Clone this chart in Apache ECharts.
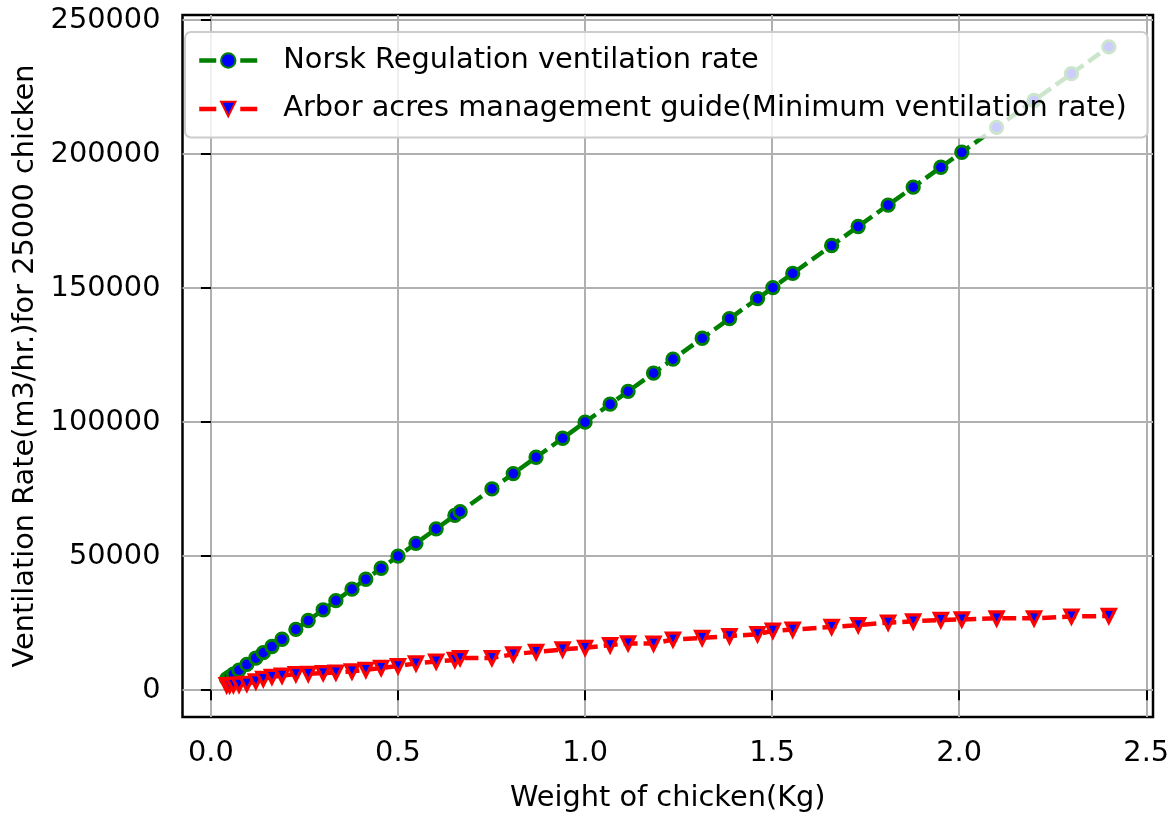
<!DOCTYPE html>
<html>
<head>
<meta charset="utf-8">
<script src="https://cdn.jsdelivr.net/npm/echarts@6/dist/echarts.min.js"></script>
<style>
html,body{margin:0;padding:0;background:#fff;}
#chart{width:1173px;height:818px;}
</style>
</head>
<body>
<div id="chart"></div>
<script>
// Weight of chicken (kg)
const weights = [0.042, 0.050, 0.060, 0.075, 0.096, 0.120, 0.140, 0.163, 0.190, 0.227,
  0.260, 0.300, 0.334, 0.377, 0.414, 0.455, 0.500, 0.548, 0.602, 0.652,
  0.666, 0.751, 0.808, 0.869, 0.940, 1.000, 1.067, 1.115, 1.183, 1.235,
  1.313, 1.386, 1.461, 1.502, 1.555, 1.659, 1.730, 1.810, 1.877, 1.951,
  2.007, 2.100, 2.200, 2.300, 2.400];
// Norsk Regulation ventilation rate (m3/hr for 25000 chicken)
const norskRate = [4200, 5000, 6000, 7500, 9600, 12000, 14000, 16300, 19000, 22700,
  26000, 30000, 33400, 37700, 41400, 45500, 50000, 54800, 60200, 65200,
  66600, 75100, 80800, 86900, 94000, 100000, 106700, 111500, 118300, 123500,
  131300, 138600, 146100, 150200, 155500, 165900, 173000, 181000, 187700, 195100,
  200700, 210000, 220000, 230000, 240000];
// Arbor acres management guide (Minimum ventilation rate)
const arborRate = [1900, 1900, 2000, 2100, 2400, 3300, 4200, 5000, 5400, 6000,
  6100, 6400, 6600, 7000, 7600, 8300, 9000, 10000, 10700, 11300,
  12000, 12000, 13400, 14300, 15200, 15800, 16800, 17500, 17400, 18900,
  19500, 20200, 20900, 22200, 22600, 23600, 24300, 25200, 25700, 26200,
  26400, 26800, 26800, 27500, 27700];
const seriesNames = ['Norsk Regulation ventilation rate',
  'Arbor acres management guide(Minimum ventilation rate)'];
const xTicks = [0, 0.5, 1.0, 1.5, 2.0, 2.5];
const yTicks = [0, 50000, 100000, 150000, 200000, 250000];
const xTitle = 'Weight of chicken(Kg)';
const yTitle = 'Ventilation Rate(m3/hr.)for 25000 chicken';

const FONT = 'DejaVu Sans';
const FS = 28.8;
const chart = echarts.init(document.getElementById('chart'), null, {renderer: 'canvas'});
const axisCommon = {
  axisLine: {show: false},
  axisTick: {show: true, inside: false, length: 10, lineStyle: {color: '#000', width: 2}},
  splitLine: {show: true, lineStyle: {color: '#b0b0b0', width: 2}},
  nameTextStyle: {fontFamily: FONT, fontSize: FS, color: '#000'},
};
chart.setOption({
  animation: false,
  backgroundColor: '#fff',
  grid: {left: 182.5, right: 20, top: 15, bottom: 100, show: true,
    borderColor: '#000', borderWidth: 2.5, backgroundColor: 'transparent', containLabel: false},
  xAxis: Object.assign({}, axisCommon, {
    type: 'value', min: -0.076, max: 2.518,
    axisTick: Object.assign({}, axisCommon.axisTick, {customValues: xTicks}),
    axisLabel: {customValues: xTicks, margin: 22, fontFamily: FONT, fontSize: FS, color: '#000',
      formatter: v => v.toFixed(1)},
    name: xTitle, nameLocation: 'middle', nameGap: 67,
  }),
  yAxis: Object.assign({}, axisCommon, {
    type: 'value', min: -10000, max: 251900,
    axisTick: Object.assign({}, axisCommon.axisTick, {customValues: yTicks}),
    axisLabel: {customValues: yTicks, margin: 22, fontFamily: FONT, fontSize: FS, color: '#000',
      formatter: v => String(Math.round(v))},
    name: yTitle, nameLocation: 'middle', nameGap: 134, nameRotate: 90,
  }),
  legend: {
    show: true, orient: 'vertical', left: 185, top: 32,
    data: [
      {name: seriesNames[0], lineStyle: {width: 4.5, type: [17, 24]}},
      {name: seriesNames[1], lineStyle: {width: 4.5, type: [17, 24]}}
    ],
    itemWidth: 58, itemHeight: 18, itemGap: 19.5,
    padding: [14, 21, 14, 12],
    backgroundColor: 'rgba(255,255,255,0.8)', borderColor: '#cccccc', borderWidth: 2, borderRadius: 6,
    textStyle: {fontFamily: FONT, fontSize: FS, color: '#000', padding: [0, 0, 0, 21]},
    selectedMode: false,
  },
  series: [
    {
      name: seriesNames[0], type: 'line',
      data: weights.map((w, i) => [w, norskRate[i]]),
      symbol: 'circle', symbolSize: 12.5, showAllSymbol: true,
      itemStyle: {color: '#0000ff', borderColor: '#008000', borderWidth: 2.8},
      lineStyle: {color: '#008000', width: 4.5, type: [14, 6]},
      emphasis: {disabled: true}, z: 2,
    },
    {
      name: seriesNames[1], type: 'line',
      data: weights.map((w, i) => [w, arborRate[i]]),
      symbol: 'triangle', symbolRotate: 180, symbolSize: 13, showAllSymbol: true,
      itemStyle: {color: '#0000ff', borderColor: '#ff0000', borderWidth: 3.2},
      lineStyle: {color: '#ff0000', width: 4.5, type: [14, 6]},
      emphasis: {disabled: true}, z: 3,
    }
  ]
});
</script>
</body>
</html>
